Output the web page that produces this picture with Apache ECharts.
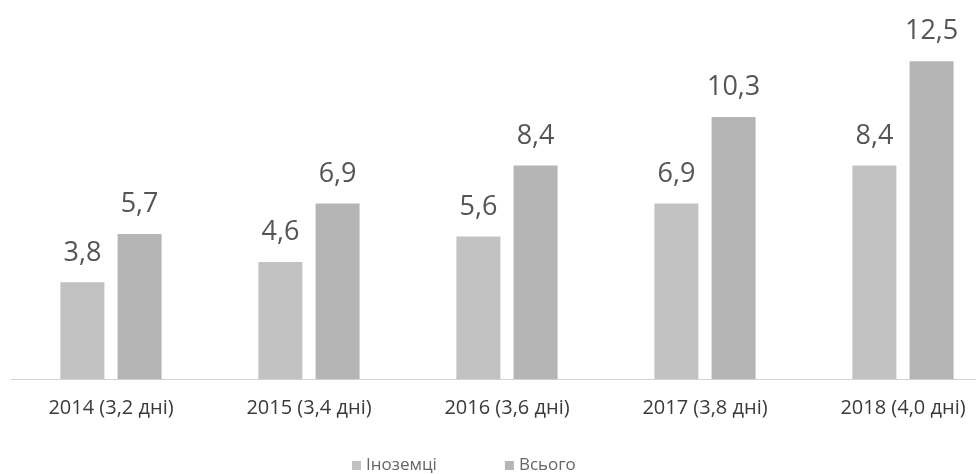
<!DOCTYPE html>
<html><head><meta charset="utf-8">
<script src="https://cdn.jsdelivr.net/npm/echarts@6/dist/echarts.min.js"></script>
<style>html,body{margin:0;padding:0;background:#fff;overflow:hidden;width:976px;height:474px}#c{width:1002px;height:474px}</style>
</head><body><div id="c"></div>
<script>
const categories = ['2014 (3,2 дні)', '2015 (3,4 дні)', '2016 (3,6 дні)', '2017 (3,8 дні)', '2018 (4,0 дні)'];
const foreigners = [3.8, 4.6, 5.6, 6.9, 8.4];
const total = [5.7, 6.9, 8.4, 10.3, 12.5];
const seriesNames = ['Іноземці', 'Всього'];

const fmt = p => String(p.value).replace('.', ',');
const chart = echarts.init(document.getElementById('c'));
chart.setOption({
  animation: false,
  legend: {
    top: 452, left: 347, itemWidth: 9, itemHeight: 9, itemGap: 68,
    icon: 'rect',
    textStyle: { fontFamily: 'Open Sans', fontSize: 17, color: '#666' },
    data: seriesNames
  },
  grid: { left: 12, right: 0, top: 23, bottom: 95 },
  xAxis: {
    type: 'category', data: categories,
    axisLine: { lineStyle: { color: '#c8c8c8', type: 'dotted' } },
    axisTick: { show: false },
    axisLabel: { fontFamily: 'Open Sans', fontSize: 20, color: '#3a3a3a', margin: 19 }
  },
  yAxis: { type: 'value', min: 0, max: 14, show: false, splitLine: { show: false } },
  series: [
    { name: seriesNames[0], type: 'bar', data: foreigners, barWidth: 44, barGap: '30%',
      itemStyle: { color: '#c2c2c2' },
      label: { show: true, position: 'top', distance: 16, formatter: fmt,
        fontFamily: 'Open Sans', fontSize: 27, color: '#555' } },
    { name: seriesNames[1], type: 'bar', data: total, barWidth: 44,
      itemStyle: { color: '#b5b5b5' },
      label: { show: true, position: 'top', distance: 16, formatter: fmt,
        fontFamily: 'Open Sans', fontSize: 27, color: '#555' } }
  ]
});
</script></body></html>
